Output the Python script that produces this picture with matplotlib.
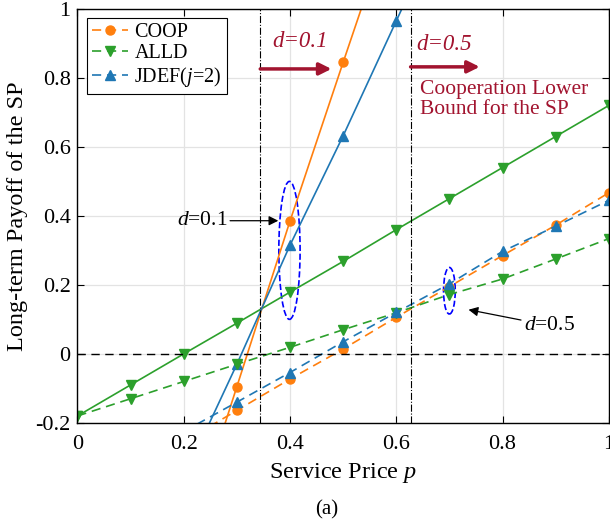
import matplotlib
matplotlib.use("Agg")
import matplotlib.pyplot as plt
from matplotlib.patches import Ellipse

plt.rcParams['font.family'] = ['Liberation Serif', 'DejaVu Serif']
plt.rcParams['mathtext.fontset'] = 'custom'
plt.rcParams['mathtext.rm'] = 'Liberation Serif'
plt.rcParams['mathtext.it'] = 'Liberation Serif:italic'

# ---- data ----
p_all = [0.0, 0.1, 0.2, 0.3, 0.4, 0.5, 0.6, 0.7, 0.8, 0.9, 1.0]
alld_d01 = [-0.18, -0.09, 0.0, 0.089, 0.179, 0.268, 0.36, 0.45, 0.54, 0.63, 0.72]
alld_d05 = [-0.18, -0.13, -0.08, -0.03, 0.019, 0.07, 0.119, 0.172, 0.217, 0.275, 0.334]

p_coop01 = [0.2, 0.3, 0.4, 0.5, 0.6]
coop_d01 = [-0.575, -0.095, 0.385, 0.845, 1.30]
p_jdef01 = [0.2, 0.3, 0.4, 0.5, 0.6, 0.7]
jdef_d01 = [-0.36, -0.03, 0.315, 0.632, 0.965, 1.30]

p_d05 = [0.2, 0.3, 0.4, 0.5, 0.6, 0.7, 0.8, 0.9, 1.0]
coop_d05 = [-0.255, -0.164, -0.073, 0.014, 0.106, 0.195, 0.285, 0.373, 0.467]
jdef_d05 = [-0.225, -0.14, -0.054, 0.035, 0.12, 0.203, 0.297, 0.37, 0.445]

thresholds = [0.344, 0.627]
x_ticks = [0, 0.2, 0.4, 0.6, 0.8, 1]
x_ticklabels = ['0', '0.2', '0.4', '0.6', '0.8', '1']
y_ticks = [-0.2, 0, 0.2, 0.4, 0.6, 0.8, 1]
y_ticklabels = ['-0.2', '0', '0.2', '0.4', '0.6', '0.8', '1']

c_coop = '#ff7f0e'
c_alld = '#2ca02c'
c_jdef = '#1f77b4'
c_red = '#A2142F'

fig = plt.figure(figsize=(6.10, 5.24), dpi=100)
ax = fig.add_axes([0.127, 0.193, 0.871, 0.790])

lw = 1.2
dash = (5.5, 3.5)
ax.plot(p_all, alld_d01, '-', color=c_alld, lw=lw, marker='v', ms=6.5)
ax.plot(p_coop01, coop_d01, '-', color=c_coop, lw=lw, marker='o', ms=6.5)
ax.plot(p_jdef01, jdef_d01, '-', color=c_jdef, lw=lw, marker='^', ms=6.5)

h1, = ax.plot(p_d05, coop_d05, '--', dashes=dash, color=c_coop, lw=lw, marker='o', ms=6.5, label='COOP')
h2, = ax.plot(p_all, alld_d05, '--', dashes=dash, color=c_alld, lw=lw, marker='v', ms=6.5, label='ALLD')
h3, = ax.plot(p_d05, jdef_d05, '--', dashes=dash, color=c_jdef, lw=lw, marker='^', ms=6.5, label='JDEF($j$=2)')

ax.axhline(0, color='black', ls='--', dashes=(6, 4), lw=1.0)
for t in thresholds:
    ax.axvline(t, color='black', ls='-.', lw=0.8)

ax.add_patch(Ellipse((0.399, 0.30), 0.04, 0.40, fill=False, ls='--', color='#0000ff', lw=1.2))
ax.add_patch(Ellipse((0.7, 0.183), 0.022, 0.135, fill=False, ls='--', color='#0000ff', lw=1.2))

ax.set_xlim(0, 1)
ax.set_ylim(-0.2, 1)
ax.set_xticks(x_ticks)
ax.set_xticklabels(x_ticklabels)
ax.set_yticks(y_ticks)
ax.set_yticklabels(y_ticklabels)
ax.tick_params(direction='in', top=True, right=True, labelsize=16, length=5, width=0.8)
ax.tick_params(axis='x', pad=9)
ax.tick_params(axis='y', pad=5)
ax.grid(True, color='#e3e3e3', lw=0.9)
ax.set_axisbelow(True)
for s in ax.spines.values():
    s.set_linewidth(1.0)

ax.set_xlabel('Service Price $p$', fontsize=17.5, labelpad=5)
ax.set_ylabel('Long-term Payoff of the SP', fontsize=17.5, labelpad=5)

leg = ax.legend(handles=[h1, h2, h3], loc='upper left', fontsize=14.5, frameon=True,
                fancybox=False, edgecolor='black', framealpha=1,
                bbox_to_anchor=(0.018, 0.978),
                handlelength=1.8, handletextpad=0.3, borderpad=0.25, labelspacing=0.1,
                borderaxespad=0)
leg.get_frame().set_linewidth(0.8)

# red annotations
ax.text(0.42, 0.905, 'd=0.1', color=c_red, style='italic', fontsize=16.5, ha='center', va='center')
ax.annotate('', xy=(0.478, 0.826), xytext=(0.344, 0.826),
            arrowprops=dict(arrowstyle='-|>', color=c_red, lw=2.5, mutation_scale=18, shrinkA=0, shrinkB=0))
ax.text(0.69, 0.897, 'd=0.5', color=c_red, style='italic', fontsize=16.5, ha='center', va='center')
ax.annotate('', xy=(0.757, 0.832), xytext=(0.627, 0.832),
            arrowprops=dict(arrowstyle='-|>', color=c_red, lw=2.5, mutation_scale=18, shrinkA=0, shrinkB=0))
ax.text(0.645, 0.738, 'Cooperation Lower\nBound for the SP', color=c_red, fontsize=15.5,
        ha='left', va='center', linespacing=1.1)

# black annotations
ax.annotate('$d$=0.1', xy=(0.378, 0.386), xytext=(0.282, 0.386), fontsize=15.5,
            ha='right', va='center',
            arrowprops=dict(arrowstyle='-|>', color='black', lw=0.9, mutation_scale=14, shrinkA=0, shrinkB=0))
ax.annotate('$d$=0.5', xy=(0.736, 0.128), xytext=(0.84, 0.082), fontsize=15.5,
            ha='left', va='center',
            arrowprops=dict(arrowstyle='-|>', color='black', lw=0.9, mutation_scale=14, shrinkA=0, shrinkB=0))

fig.text(0.535, 0.027, '(a)', fontsize=15, ha='center', va='center')

fig.savefig('out.png', dpi=100)
